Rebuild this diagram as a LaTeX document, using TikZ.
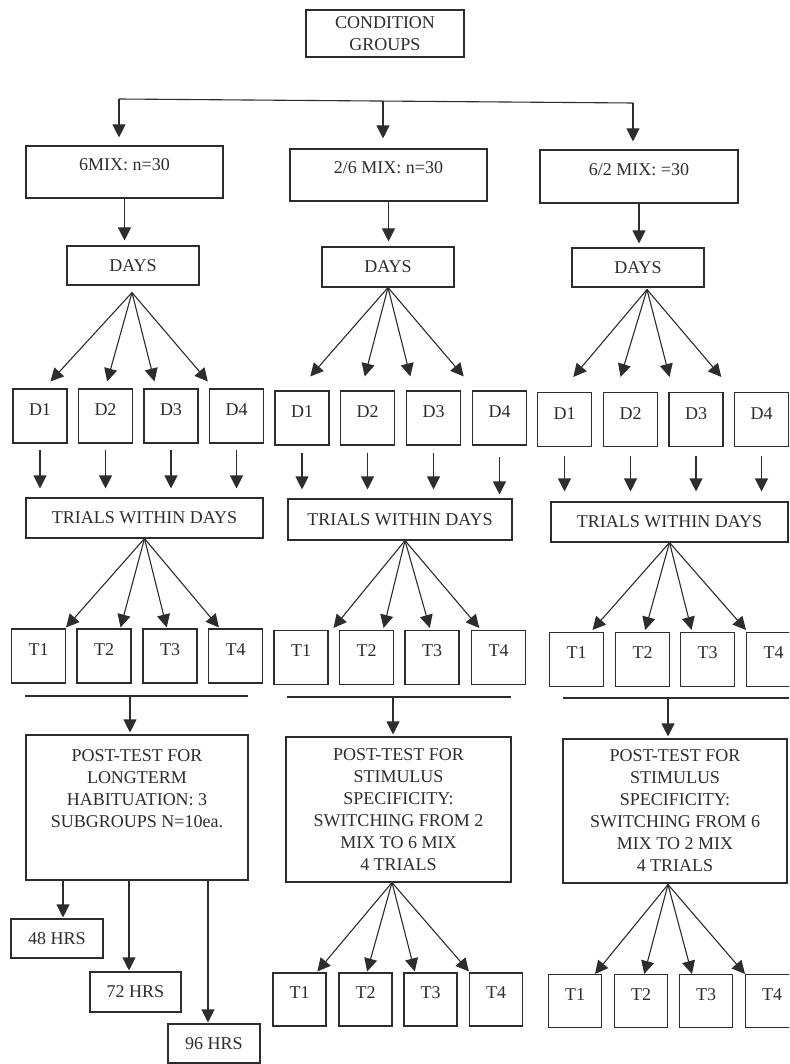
\documentclass[tikz,border=0pt]{standalone}
\usepackage{fontspec}
\setmainfont{Liberation Serif}
\usetikzlibrary{arrows.meta,calc}
\definecolor{ink}{RGB}{45,45,45}
\newcommand\fanarr[4]{\draw[arr] (#1) -- ($(#2.north west)!#3!(#2.north east)+(0,-#4)$);}
\begin{document}
\begin{tikzpicture}[x=1pt,y=-1pt,
  box/.style={draw=ink, line width=1.1pt, inner sep=0pt, text=ink,
    font=\fontsize{18}{22}\selectfont, align=center},
  sz/.style 2 args={minimum width=#1pt, minimum height=#2pt},
  dbox/.style={box, sz={54}{54}, text depth=12pt},
  tbox/.style={box, sz={54}{54}, text depth=13pt},
  bbox/.style={box, sz={53}{53}, text depth=13pt},
  arr/.style={draw=ink, line width=1.1pt, -{Triangle[length=13pt,width=13pt]}},
  ln/.style={draw=ink, line width=1.1pt}]
\useasboundingbox (0,0) rectangle (789,1064);
\clip (0,0) rectangle (789,1064);
\fill[white] (0,0) rectangle (789,1064);

% top
\node[box, sz={158}{47}] (cg) at (385,33.5) {CONDITION\\GROUPS};
\node[box, sz={197}{52}, text depth=14pt] (g1) at (124.5,172) {6MIX: n=30};
\node[box, sz={197}{52}, text depth=14pt] (g2) at (388.5,175) {2/6 MIX: n=30};
\node[box, sz={198}{53}, text depth=13pt] (g3) at (639,176.5) {6/2 MIX: =30};

\coordinate (j1) at (119,99);
\coordinate (j2) at (383,101);
\coordinate (j3) at (633,103);
\draw[ln] (j1) -- (j3);
\draw[arr] (j1) -- ($(g1.north)+(-5.5,-8)$);
\draw[arr] (j2) -- ($(g2.north)+(-5.5,-10)$);
\draw[arr] (j3) -- ($(g3.north)+(-6,-8)$);

% days
\node[box, sz={132}{39}] (y1) at (133,265.5) {DAYS};
\node[box, sz={132}{40}] (y2) at (388,267) {DAYS};
\node[box, sz={132}{39}] (y3) at (638,267.5) {DAYS};
\draw[arr] (g1.south) -- ($(g1.south |- y1.north)+(0,-5)$);
\draw[arr] (g2.south) -- ($(g2.south |- y2.north)+(0,-5)$);
\draw[arr] (g3.south) -- ($(g3.south |- y3.north)+(0,-4)$);

% D boxes
\node[dbox] (d11) at (40,416) {D1};
\node[dbox] (d12) at (105.5,416) {D2};
\node[dbox] (d13) at (171,416) {D3};
\node[dbox] (d14) at (236.5,416) {D4};
\node[dbox] (d21) at (302,418) {D1};
\node[dbox] (d22) at (367.5,418) {D2};
\node[dbox] (d23) at (433.5,418) {D3};
\node[dbox] (d24) at (499.5,418) {D4};
\node[dbox] (d31) at (564.5,419.5) {D1};
\node[dbox] (d32) at (630.5,419.5) {D2};
\node[dbox] (d33) at (696,419.5) {D3};
\node[dbox] (d34) at (761.5,419.5) {D4};

\coordinate (f1) at ($(y1.south)+(-1,7)$);
\coordinate (f2) at (y2.south);
\coordinate (f3) at ($(y3.south)+(9,2)$);
\fanarr{f1}{d11}{0.69}{7}
\fanarr{f1}{d12}{0.53}{7}
\fanarr{f1}{d13}{0.2}{7}
\fanarr{f1}{d14}{-0.02}{7}
\fanarr{f2}{d21}{0.65}{14}
\fanarr{f2}{d22}{0.45}{14}
\fanarr{f2}{d23}{0.08}{14}
\fanarr{f2}{d24}{-0.15}{14}
\fanarr{f3}{d31}{0.66}{15}
\fanarr{f3}{d32}{0.32}{15}
\fanarr{f3}{d33}{0.02}{15}
\fanarr{f3}{d34}{-0.23}{15}

% trials within days
\node[box, sz={237}{40}] (tr1) at (144.5,518) {TRIALS WITHIN DAYS};
\node[box, sz={224}{41}] (tr2) at (400,519.5) {TRIALS WITHIN DAYS};
\node[box, sz={237}{40}] (tr3) at (669.5,522) {TRIALS WITHIN DAYS};

\foreach \d in {d11,d12,d13,d14}
  \draw[arr, shorten <=6pt, shorten >=9pt] (\d.south) -- (\d.south |- tr1.north);
\foreach \d in {d21,d22,d23}
  \draw[arr, shorten <=7pt, shorten >=9pt] (\d.south) -- (\d.south |- tr2.north);
\draw[arr, shorten <=11pt, shorten >=4pt] (d24.south) -- (d24.south |- tr2.north);
\foreach \d in {d31,d32,d33,d34}
  \draw[arr, shorten <=9pt, shorten >=10pt] (\d.south) -- (\d.south |- tr3.north);

% T boxes row 1
\node[tbox] (t11) at (38.5,656) {T1};
\node[tbox] (t12) at (104,656) {T2};
\node[tbox] (t13) at (170,656) {T3};
\node[tbox] (t14) at (235.5,656) {T4};
\node[tbox] (t21) at (301,657.5) {T1};
\node[tbox] (t22) at (366.5,657.5) {T2};
\node[tbox] (t23) at (432,657.5) {T3};
\node[tbox] (t24) at (498.5,657.5) {T4};
\node[tbox] (t31) at (576.5,659.5) {T1};
\node[tbox] (t32) at (642.5,659.5) {T2};
\node[tbox] (t33) at (707.5,659.5) {T3};
\node[tbox] (t34) at (773.5,659.5) {T4};

\coordinate (e1) at (tr1.south);
\coordinate (e2) at ($(tr2.south)+(5,0)$);
\coordinate (e3) at (tr3.south);
\fanarr{e1}{t11}{1.0}{1}
\fanarr{e1}{t12}{0.8}{1}
\fanarr{e1}{t13}{0.44}{1}
\fanarr{e1}{t14}{0.2}{1}
\fanarr{e2}{t21}{1.09}{2}
\fanarr{e2}{t22}{0.81}{2}
\fanarr{e2}{t23}{0.46}{2}
\fanarr{e2}{t24}{0.15}{2}
\fanarr{e3}{t31}{0.79}{2}
\fanarr{e3}{t32}{0.55}{2}
\fanarr{e3}{t33}{0.21}{2}
\fanarr{e3}{t34}{0.0}{2}

% post-test boxes
\node[box, sz={222}{145}, text depth=38pt] (p1) at (137,807.5)
  {POST-TEST FOR\\LONGTERM\\HABITUATION: 3\\SUBGROUPS N=10ea.};
\node[box, sz={225}{145}] (p2) at (398.5,809.5)
  {POST-TEST FOR\\STIMULUS\\SPECIFICITY:\\SWITCHING FROM 2\\MIX TO 6 MIX\\4 TRIALS};
\node[box, sz={224}{144}] (p3) at (675,811)
  {POST-TEST FOR\\STIMULUS\\SPECIFICITY:\\SWITCHING FROM 6\\MIX TO 2 MIX\\4 TRIALS};

\coordinate (l1a) at (25,696);  \coordinate (l1b) at (248,696);
\coordinate (l2a) at (287,697); \coordinate (l2b) at (511,697);
\coordinate (l3a) at (563,698); \coordinate (l3b) at (789,698);
\draw[ln] (l1a) -- (l1b);
\draw[ln] (l2a) -- (l2b);
\draw[ln] (l3a) -- (l3b);
\coordinate (m1) at (130,696);
\coordinate (m2) at (393,697);
\coordinate (m3) at (668,698);
\draw[arr] (m1) -- ($(m1 |- p1.north)+(0,-2)$);
\draw[arr] (m2) -- ($(m2 |- p2.north)+(0,-2)$);
\draw[arr] (m3) -- ($(m3 |- p3.north)+(0,-2)$);

% hours
\node[box, sz={92}{39}] (h48) at (57,938.5) {48 HRS};
\node[box, sz={91}{40}] (h72) at (135.5,992) {72 HRS};
\node[box, sz={92}{39}] (h96) at (214,1043.5) {96 HRS};
\coordinate (a48) at ($(h48.north)+(6,-1)$);
\coordinate (a72) at ($(h72.north)+(-6.5,-1)$);
\coordinate (a96) at ($(h96.north)+(-6,-1)$);
\draw[arr] (a48 |- p1.south) -- (a48);
\draw[arr] (a72 |- p1.south) -- (a72);
\draw[arr] (a96 |- p1.south) -- (a96);

% bottom T boxes
\node[bbox] (b21) at (299.5,999.5) {T1};
\node[bbox] (b22) at (365.5,999.5) {T2};
\node[bbox] (b23) at (430.5,999.5) {T3};
\node[bbox] (b24) at (496,999.5) {T4};
\node[bbox] (b31) at (575,1001) {T1};
\node[bbox] (b32) at (641,1001) {T2};
\node[bbox] (b33) at (706,1001) {T3};
\node[bbox] (b34) at (772,1001) {T4};

\coordinate (k2) at ($(p2.south)+(-6.5,0)$);
\coordinate (k3) at ($(p3.south)+(-7,1)$);
\fanarr{k2}{b21}{0.83}{1}
\fanarr{k2}{b22}{0.53}{1}
\fanarr{k2}{b23}{0.21}{1}
\fanarr{k2}{b24}{0.0}{1}
\fanarr{k3}{b31}{0.87}{0}
\fanarr{k3}{b32}{0.56}{0}
\fanarr{k3}{b33}{0.24}{0}
\fanarr{k3}{b34}{0.0}{0}
\end{tikzpicture}
\end{document}
